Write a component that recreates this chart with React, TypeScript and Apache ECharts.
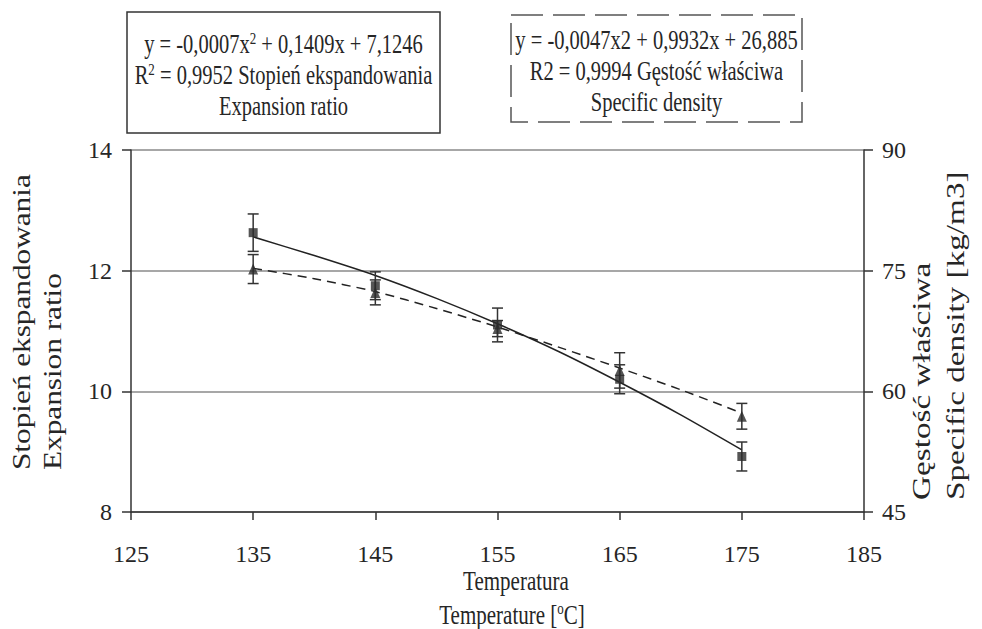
import React, { useEffect, useRef } from "react";
import * as echarts from "echarts";

// Measured points (temperature in °C)
const temperatures = [135, 145, 155, 165, 175];
const expansionRatio = [12.63, 11.75, 11.1, 10.2, 8.92];
const expansionError = [0.31, 0.23, 0.28, 0.24, 0.24];
const specificDensity = [75.2, 72.3, 67.8, 62.6, 56.9];
const densityError = [1.8, 1.55, 1.0, 2.2, 1.6];

// Polynomial trend curves
const trendTemperatures = [135, 140, 145, 150, 155, 160, 165, 170, 175];
const expansionTrend = [12.56, 12.25, 11.92, 11.54, 11.12, 10.66, 10.15, 9.61, 9.03];
const densityTrend = [75.3, 74.0, 72.4, 70.3, 68.0, 65.5, 62.9, 60.2, 57.3];

// Axis ticks
const temperatureTicks = [125, 135, 145, 155, 165, 175, 185];

const SERIF = '"Liberation Serif", "Times New Roman", serif';
const INK = "#262626";

const errorBarRenderer = (params: any, api: any) => {
  const x = api.value(0);
  const y = api.value(1);
  const e = api.value(2);
  const top = api.coord([x, y + e]);
  const bottom = api.coord([x, y - e]);
  const cap = 5.5;
  const style = { stroke: "#333", lineWidth: 1.5 };
  return {
    type: "group",
    children: [
      { type: "line", shape: { x1: top[0], y1: top[1], x2: bottom[0], y2: bottom[1] }, style },
      { type: "line", shape: { x1: top[0] - cap, y1: top[1], x2: top[0] + cap, y2: top[1] }, style },
      { type: "line", shape: { x1: bottom[0] - cap, y1: bottom[1], x2: bottom[0] + cap, y2: bottom[1] }, style },
    ],
  };
};

const boxText = (x: number, y: number, text: string) => ({
  type: "text",
  x,
  y,
  scaleY: 1.3,
  z: 10,
  style: {
    text,
    fontSize: 20.5,
    fontFamily: SERIF,
    fill: INK,
    align: "center",
    verticalAlign: "middle",
    textAlign: "center",
    textVerticalAlign: "middle",
    rich: {
      sup: { fontSize: 13, fontFamily: SERIF, fill: INK, verticalAlign: "top", lineHeight: 22 },
    },
  },
});

const verticalText = (x: number, y: number, text: string, size: number, stretch: number) => ({
  type: "text",
  x,
  y,
  rotation: Math.PI / 2,
  scaleX: stretch,
  style: {
    text,
    fontSize: size,
    fontFamily: SERIF,
    fill: INK,
    align: "left",
    verticalAlign: "middle",
    textAlign: "left",
    textVerticalAlign: "middle",
  },
});

export default function App() {
  const ref = useRef<HTMLDivElement>(null);

  useEffect(() => {
    if (!ref.current) return;
    const chart = echarts.init(ref.current, null, { renderer: "svg" });

    const axisLabelStyle = { fontSize: 24, fontFamily: SERIF, color: INK };

    chart.setOption({
      animation: false,
      backgroundColor: "#ffffff",
      grid: { left: 131, right: 118, top: 150, bottom: 117, containLabel: false },
      xAxis: {
        type: "value",
        min: 125,
        max: 185,
        axisLine: { show: true, onZero: false, lineStyle: { color: "#333", width: 1.5 } },
        axisTick: { show: true, length: 8, customValues: temperatureTicks, lineStyle: { color: "#333", width: 1.5 } },
        axisLabel: { ...axisLabelStyle, margin: 30, customValues: temperatureTicks },
        splitLine: { show: false },
      },
      yAxis: [
        {
          type: "value",
          position: "left",
          min: 8,
          max: 14,
          interval: 2,
          axisLine: { show: true, lineStyle: { color: "#333", width: 1.5 } },
          axisTick: { show: true, length: 9, lineStyle: { color: "#333", width: 1.5 } },
          axisLabel: { ...axisLabelStyle, margin: 19 },
          splitLine: { show: true, lineStyle: { color: "#8a8a8a", width: 1.5 } },
        },
        {
          type: "value",
          position: "right",
          min: 45,
          max: 90,
          interval: 15,
          axisLine: { show: true, lineStyle: { color: "#333", width: 1.5 } },
          axisTick: { show: true, length: 9, lineStyle: { color: "#333", width: 1.5 } },
          axisLabel: { ...axisLabelStyle, margin: 18 },
          splitLine: { show: false },
        },
      ],
      series: [
        {
          name: "Stopień ekspandowania – trend",
          type: "line",
          yAxisIndex: 0,
          data: trendTemperatures.map((t, i) => [t, expansionTrend[i]]),
          showSymbol: false,
          smooth: 0.2,
          lineStyle: { color: "#222", width: 1.5, type: "solid" },
          z: 2,
        },
        {
          name: "Gęstość właściwa – trend",
          type: "line",
          yAxisIndex: 1,
          data: trendTemperatures.map((t, i) => [t, densityTrend[i]]),
          showSymbol: false,
          smooth: 0.2,
          lineStyle: { color: "#222", width: 1.5, type: [9, 6] },
          z: 2,
        },
        {
          name: "Stopień ekspandowania – błąd",
          type: "custom",
          yAxisIndex: 0,
          renderItem: errorBarRenderer,
          encode: { x: 0, y: 1 },
          data: temperatures.map((t, i) => [t, expansionRatio[i], expansionError[i]]),
          z: 3,
        },
        {
          name: "Gęstość właściwa – błąd",
          type: "custom",
          yAxisIndex: 1,
          renderItem: errorBarRenderer,
          encode: { x: 0, y: 1 },
          data: temperatures.map((t, i) => [t, specificDensity[i], densityError[i]]),
          z: 3,
        },
        {
          name: "Stopień ekspandowania",
          type: "scatter",
          yAxisIndex: 0,
          symbol: "rect",
          symbolSize: 9,
          itemStyle: { color: "#2b2b2b" },
          data: temperatures.map((t, i) => [t, expansionRatio[i]]),
          z: 4,
        },
        {
          name: "Gęstość właściwa",
          type: "scatter",
          yAxisIndex: 1,
          symbol: "triangle",
          symbolSize: [10, 11],
          itemStyle: { color: "#2b2b2b" },
          data: temperatures.map((t, i) => [t, specificDensity[i]]),
          z: 4,
        },
      ],
      graphic: [
        {
          type: "rect",
          shape: { x: 127, y: 12, width: 313, height: 121 },
          style: { fill: "#ffffff", stroke: "#333", lineWidth: 1.5 },
        },
        boxText(283.5, 44, "y = -0,0007x{sup|2} + 0,1409x + 7,1246"),
        boxText(283.5, 75, "R{sup|2} = 0,9952 Stopień ekspandowania"),
        boxText(283.5, 106, "Expansion ratio"),
        {
          type: "rect",
          shape: { x: 511, y: 15, width: 291, height: 107 },
          style: { fill: "#ffffff", stroke: "#555", lineWidth: 1.5, lineDash: [32, 10] },
        },
        boxText(656.5, 40, "y = -0,0047x2 + 0,9932x + 26,885"),
        boxText(656.5, 71, "R2 = 0,9994 Gęstość właściwa"),
        boxText(656.5, 102, "Specific density"),
        verticalText(22, 470, "Stopień ekspandowania", 25, 1.25),
        verticalText(53, 470, "Expansion ratio", 25, 1.25),
        verticalText(922, 500, "Gęstość właściwa", 25, 1.33),
        verticalText(956, 500, "Specific density [kg/m3]", 25, 1.33),
        {
          type: "text",
          x: 516,
          y: 580,
          scaleY: 1.3,
          style: {
            text: "Temperatura",
            fontSize: 21,
            fontFamily: SERIF,
            fill: INK,
            align: "center",
            verticalAlign: "middle",
            textAlign: "center",
            textVerticalAlign: "middle",
          },
        },
        {
          type: "text",
          x: 512,
          y: 614,
          scaleY: 1.3,
          style: {
            text: "Temperature [{sup|o}C]",
            fontSize: 21,
            fontFamily: SERIF,
            fill: INK,
            align: "center",
            verticalAlign: "middle",
            textAlign: "center",
            textVerticalAlign: "middle",
            rich: {
              sup: { fontSize: 13, fontFamily: SERIF, fill: INK, verticalAlign: "top", lineHeight: 22 },
            },
          },
        },
      ],
    });

    return () => {
      chart.dispose();
    };
  }, []);

  return (
    <div
      ref={ref}
      style={{ position: "fixed", left: 0, top: 0, width: 982, height: 629, background: "#ffffff" }}
    />
  );
}
